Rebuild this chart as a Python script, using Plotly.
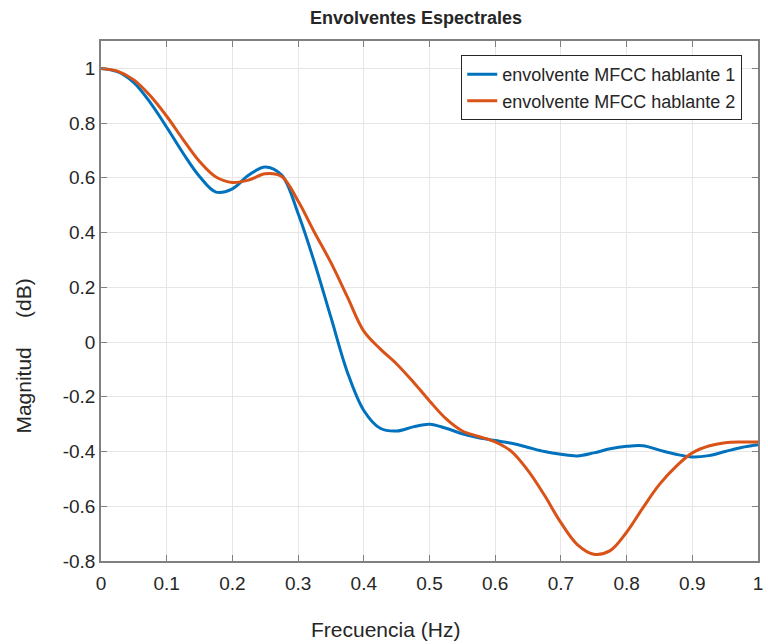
import plotly.graph_objects as go

freq = [0, 0.025, 0.05, 0.075, 0.1, 0.125, 0.15, 0.175, 0.2, 0.225, 0.25, 0.275,
        0.3, 0.325, 0.35, 0.375, 0.4, 0.425, 0.45, 0.475, 0.5, 0.525, 0.55, 0.575,
        0.6, 0.625, 0.65, 0.675, 0.7, 0.725, 0.75, 0.775, 0.8, 0.825, 0.85, 0.875,
        0.9, 0.925, 0.95, 0.975, 1.0]

hablante1 = [1.0, 0.988, 0.948, 0.875, 0.785, 0.69, 0.605, 0.548, 0.56, 0.61, 0.64, 0.61,
             0.47, 0.29, 0.09, -0.11, -0.25, -0.315, -0.325, -0.31, -0.30, -0.315, -0.335, -0.35,
             -0.36, -0.37, -0.385, -0.40, -0.41, -0.416, -0.405, -0.39, -0.381, -0.379, -0.395, -0.41,
             -0.42, -0.415, -0.40, -0.385, -0.375]

hablante2 = [1.0, 0.99, 0.958, 0.90, 0.825, 0.74, 0.66, 0.603, 0.583, 0.592, 0.615, 0.605,
             0.515, 0.40, 0.29, 0.165, 0.04, -0.025, -0.08, -0.145, -0.215, -0.28, -0.325, -0.345,
             -0.365, -0.40, -0.47, -0.56, -0.66, -0.74, -0.775, -0.762, -0.695, -0.605, -0.52, -0.455,
             -0.405, -0.38, -0.368, -0.365, -0.365]

x_ticks = [0, 0.1, 0.2, 0.3, 0.4, 0.5, 0.6, 0.7, 0.8, 0.9, 1]
x_labels = ["0", "0.1", "0.2", "0.3", "0.4", "0.5", "0.6", "0.7", "0.8", "0.9", "1"]
y_ticks = [-0.8, -0.6, -0.4, -0.2, 0, 0.2, 0.4, 0.6, 0.8, 1]
y_labels = ["-0.8", "-0.6", "-0.4", "-0.2", "0", "0.2", "0.4", "0.6", "0.8", "1"]

FONT = "Liberation Sans, Arial, sans-serif"
TXT = "#262626"

fig = go.Figure()
fig.add_trace(go.Scatter(x=freq, y=hablante1, mode="lines", name="envolvente MFCC hablante 1",
                         line=dict(color="#0072BD", width=3, shape="spline", smoothing=1.0)))
fig.add_trace(go.Scatter(x=freq, y=hablante2, mode="lines", name="envolvente MFCC hablante 2",
                         line=dict(color="#D95319", width=3, shape="spline", smoothing=1.0)))

axis_common = dict(showline=True, linecolor="#808080", linewidth=1.5, mirror="ticks",
                   ticks="inside", ticklen=6, tickcolor="#808080",
                   showgrid=True, gridcolor="#e6e6e6", gridwidth=1, zeroline=False,
                   tickfont=dict(family=FONT, size=19, color=TXT))

fig.update_layout(
    width=768, height=644,
    margin=dict(l=101, r=5, t=41, b=83),
    paper_bgcolor="white", plot_bgcolor="white",
    title=dict(text="<b>Envolventes Espectrales</b>", x=416 / 768, xanchor="center",
               y=1 - 18 / 644, yanchor="middle",
               font=dict(family=FONT, size=18, color=TXT)),
    xaxis=dict(range=[0, 1], tickvals=x_ticks, ticktext=x_labels, ticklabelstandoff=4,
               **axis_common),
    yaxis=dict(range=[-0.8, 1.1], tickvals=y_ticks, ticktext=y_labels,
               **axis_common),
    legend=dict(x=0.976, y=0.973, xanchor="right", yanchor="top",
                bgcolor="white", bordercolor="#262626", borderwidth=1,
                font=dict(family=FONT, size=18, color=TXT),
                tracegroupgap=0),
    showlegend=True,
    annotations=[
        dict(text="Frecuencia (Hz)", xref="paper", yref="paper",
             x=(388 - 101) / 662, y=(561 - 629) / 520, xanchor="center", yanchor="middle",
             showarrow=False, font=dict(family=FONT, size=21, color=TXT)),
        dict(text="Magnitud" + "\u00a0" * 5 + "(dB)", xref="paper", yref="paper",
             x=(22 - 101) / 662, y=(561 - 356) / 520, xanchor="center", yanchor="middle",
             textangle=-90, showarrow=False, font=dict(family=FONT, size=21, color=TXT)),
    ],
)

fig.write_html("out.html")
